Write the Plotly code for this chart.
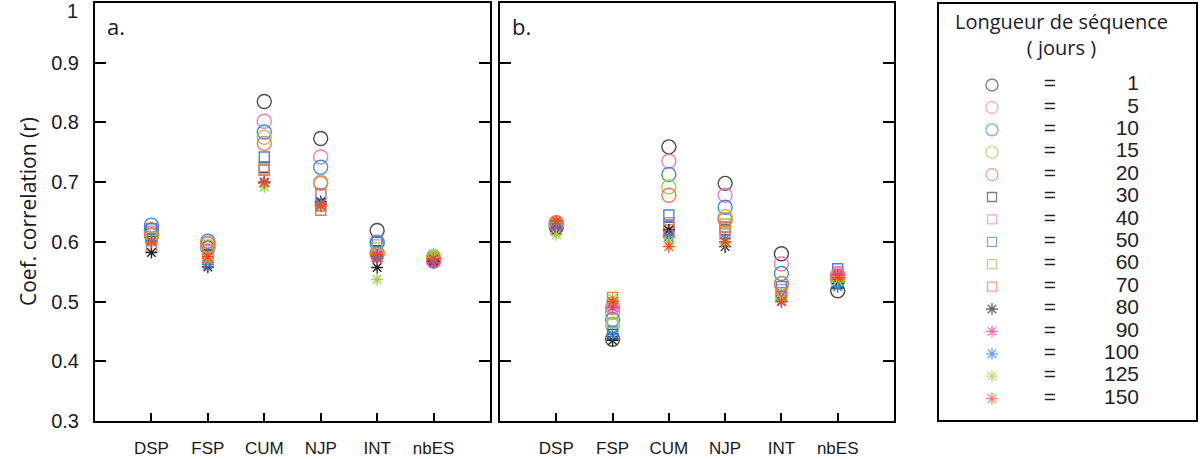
import plotly.graph_objects as go

categories = ["DSP", "FSP", "CUM", "NJP", "INT", "nbES"]
seq_lengths = [1, 5, 10, 15, 20, 30, 40, 50, 60, 70, 80, 90, 100, 125, 150]

panel_a = {
    1:   [0.620, 0.590, 0.835, 0.773, 0.619, 0.572],
    5:   [0.615, 0.597, 0.802, 0.742, 0.600, 0.570],
    10:  [0.628, 0.601, 0.784, 0.725, 0.598, 0.568],
    15:  [0.610, 0.592, 0.775, 0.700, 0.582, 0.575],
    20:  [0.612, 0.597, 0.765, 0.698, 0.580, 0.570],
    30:  [0.605, 0.578, 0.725, 0.680, 0.585, 0.570],
    40:  [0.603, 0.585, 0.722, 0.680, 0.595, 0.568],
    50:  [0.622, 0.575, 0.742, 0.660, 0.600, 0.572],
    60:  [0.608, 0.575, 0.720, 0.660, 0.590, 0.575],
    70:  [0.592, 0.588, 0.720, 0.653, 0.575, 0.570],
    80:  [0.582, 0.558, 0.700, 0.667, 0.557, 0.568],
    90:  [0.600, 0.565, 0.700, 0.662, 0.572, 0.565],
    100: [0.602, 0.562, 0.698, 0.665, 0.575, 0.570],
    125: [0.600, 0.570, 0.692, 0.660, 0.537, 0.580],
    150: [0.600, 0.575, 0.700, 0.660, 0.578, 0.572],
}

panel_b = {
    1:   [0.625, 0.437, 0.759, 0.698, 0.580, 0.518],
    5:   [0.628, 0.482, 0.735, 0.678, 0.563, 0.545],
    10:  [0.630, 0.470, 0.713, 0.658, 0.547, 0.540],
    15:  [0.630, 0.460, 0.692, 0.642, 0.530, 0.535],
    20:  [0.632, 0.490, 0.678, 0.637, 0.530, 0.540],
    30:  [0.622, 0.445, 0.625, 0.620, 0.515, 0.530],
    40:  [0.620, 0.495, 0.632, 0.615, 0.520, 0.550],
    50:  [0.628, 0.450, 0.645, 0.625, 0.525, 0.555],
    60:  [0.625, 0.465, 0.615, 0.630, 0.510, 0.535],
    70:  [0.630, 0.507, 0.620, 0.625, 0.515, 0.545],
    80:  [0.618, 0.435, 0.620, 0.592, 0.500, 0.530],
    90:  [0.622, 0.490, 0.610, 0.600, 0.510, 0.545],
    100: [0.625, 0.445, 0.608, 0.605, 0.505, 0.525],
    125: [0.612, 0.505, 0.600, 0.598, 0.505, 0.535],
    150: [0.635, 0.500, 0.592, 0.600, 0.500, 0.540],
}

y_tickvals = [0.3, 0.4, 0.5, 0.6, 0.7, 0.8, 0.9, 1.0]
y_ticktext = ["0.3", "0.4", "0.5", "0.6", "0.7", "0.8", "0.9", ""]
y_top_label = "1"

colors = ["#4a4a4a", "#f07ab4", "#3f88d6", "#9ccc55", "#f3764a",
          "#4a4a4a", "#f07ab4", "#3f88d6", "#8cc45a", "#f3764a",
          "#222222", "#e8308c", "#2a80d4", "#a2d045", "#f04a22"]
symbols = ["circle-open"] * 5 + ["square-open"] * 5 + ["asterisk-open"] * 5
sizes = [14] * 5 + [10] * 5 + [10] * 5
leg_sizes = [12] * 5 + [9] * 5 + [10] * 5

xpos = list(range(1, len(categories) + 1))

fig = go.Figure()

for i, L in enumerate(seq_lengths):
    for data, xa, ya in [(panel_a, "x", "y"), (panel_b, "x2", "y2")]:
        fig.add_trace(go.Scatter(
            x=xpos, y=data[L], mode="markers", xaxis=xa, yaxis=ya,
            marker=dict(symbol=symbols[i], size=sizes[i],
                        color=colors[i], line=dict(color=colors[i], width=1.4)),
            showlegend=False, hoverinfo="skip"))

# custom legend panel
W, H = 1200, 459
leg_idx = list(range(len(seq_lengths)))
leg_left, leg_right = 938, 1197
leg_w = leg_right - leg_left
leg_font = dict(family="Liberation Sans", size=21, color="#222")
fig.add_trace(go.Scatter(
    x=[(992 - leg_left) / leg_w] * len(seq_lengths), y=leg_idx, mode="markers",
    xaxis="x3", yaxis="y3",
    marker=dict(symbol=symbols, size=leg_sizes, color=colors,
                line=dict(color=colors, width=1.3)),
    showlegend=False, hoverinfo="skip"))
fig.add_trace(go.Scatter(
    x=[(1050 - leg_left) / leg_w] * len(seq_lengths), y=leg_idx, mode="text",
    xaxis="x3", yaxis="y3",
    text=["="] * len(seq_lengths), textposition="middle center",
    textfont=leg_font, showlegend=False, hoverinfo="skip"))
fig.add_trace(go.Scatter(
    x=[(1139 - leg_left) / leg_w] * len(seq_lengths), y=leg_idx, mode="text",
    xaxis="x3", yaxis="y3",
    text=[str(L) for L in seq_lengths], textposition="middle left",
    textfont=leg_font, showlegend=False, hoverinfo="skip"))

ydom = [(H - 421) / H, (H - 3) / H]
axis_common = dict(showline=True, linecolor="black", linewidth=2, showgrid=False,
                   zeroline=False, automargin=False)
xfont = dict(family="Liberation Sans", size=17, color="#1a1a1a")
yfont = dict(family="Liberation Sans", size=20, color="#1a1a1a")

fig.update_layout(
    width=W, height=H, margin=dict(l=0, r=0, t=0, b=0),
    plot_bgcolor="white", paper_bgcolor="white",
    xaxis=dict(domain=[95 / W, 490 / W], range=[0, 7], tickvals=xpos, ticktext=categories,
               ticks="inside", ticklen=8, tickwidth=2, tickcolor="black", mirror=True,
               tickfont=xfont, ticklabelstandoff=11, anchor="y", **axis_common),
    yaxis=dict(domain=ydom, range=[0.3, 1.0], tickvals=y_tickvals, ticktext=y_ticktext,
               ticks="inside", ticklen=11, tickwidth=2, tickcolor="black", mirror="ticks",
               tickfont=yfont, ticklabelstandoff=10, anchor="x", **axis_common),
    xaxis2=dict(domain=[500 / W, 894 / W], range=[0, 7], tickvals=xpos, ticktext=categories,
                ticks="inside", ticklen=8, tickwidth=2, tickcolor="black", mirror=True,
                tickfont=xfont, ticklabelstandoff=11, anchor="y2", **axis_common),
    yaxis2=dict(domain=ydom, range=[0.3, 1.0], tickvals=y_tickvals,
                ticks="inside", ticklen=11, tickwidth=2, tickcolor="black", mirror="ticks",
                showticklabels=False, anchor="x2", **axis_common),
    xaxis3=dict(domain=[leg_left / W, leg_right / W], range=[0, 1], visible=False,
                anchor="y3", fixedrange=True),
    yaxis3=dict(domain=[0, 1], range=[(H - 85) / 22.4, -85 / 22.4], visible=False,
                anchor="x3", fixedrange=True),
)

# top "1" tick label (sits slightly below the top edge, as in the original)
fig.add_annotation(xref="paper", yref="paper", x=80 / W, y=(H - 11) / H,
                   xanchor="right", yanchor="middle", text=y_top_label,
                   showarrow=False, font=yfont)

# legend box
fig.add_shape(type="rect", xref="paper", yref="paper",
              x0=leg_left / W, x1=leg_right / W, y0=(H - 421) / H, y1=(H - 3) / H,
              line=dict(color="black", width=2), fillcolor="rgba(0,0,0,0)")

title_font = dict(family="Open Sans", size=20, color="#1a1a2a")
fig.add_annotation(xref="x3", yref="y3", x=(1061 - leg_left) / leg_w, y=(34.5 - 85) / 22.4,
                   text="Longueur de séquence<br>( jours )", showarrow=False,
                   align="center", font=title_font)

# panel letters
letter_font = dict(family="Open Sans", size=22, color="#1a1a1a")
fig.add_annotation(xref="x domain", yref="y domain", x=0.025, y=0.985, xanchor="left",
                   yanchor="top", text="a.", showarrow=False, font=letter_font)
fig.add_annotation(xref="x2 domain", yref="y2 domain", x=0.025, y=0.985, xanchor="left",
                   yanchor="top", text="b.", showarrow=False, font=letter_font)

# y axis title
fig.add_annotation(xref="paper", yref="paper", x=12 / W, y=(ydom[0] + ydom[1]) / 2,
                   text="Coef. correlation (r)", textangle=-90, showarrow=False,
                   font=dict(family="Open Sans", size=21, color="#1a1a1a"))

fig.write_html("out.html",
               config={"displayModeBar": False},
               post_script="document.body.style.margin='0';"
                           "document.body.style.overflow='hidden';")
